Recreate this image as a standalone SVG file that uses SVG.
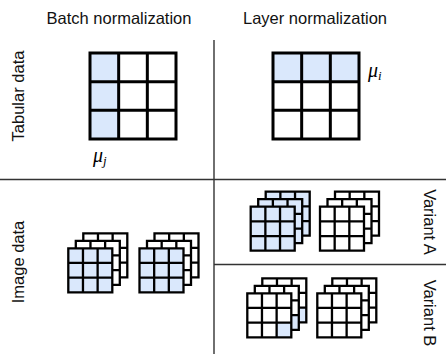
<svg xmlns="http://www.w3.org/2000/svg" xmlns:xlink="http://www.w3.org/1999/xlink" width="446" height="356" viewBox="0 0 446 356">
<style>
.lbl{font-family:"Liberation Sans",Arial,sans-serif;font-size:16.5px;fill:#111}
.mu{font-family:"Liberation Serif","DejaVu Serif",serif;font-style:italic;font-size:20px;fill:#000}
.sub{font-size:13px}
.g{stroke:#000;stroke-width:3;fill:none}
.c{stroke:#000;stroke-width:2.3;fill:none}
.blue{fill:#dae8fc}
.white{fill:#fff}
.div{stroke:#333;stroke-width:1.4;fill:none}
</style>
<defs>
<g id="lw"><rect width="44" height="44" class="white"/><path class="c" d="M0 0H44V44H0Z M14.67 0V44 M29.33 0V44 M0 14.67H44 M0 29.33H44"/></g>
<g id="lb"><rect width="44" height="44" class="blue"/><path class="c" d="M0 0H44V44H0Z M14.67 0V44 M29.33 0V44 M0 14.67H44 M0 29.33H44"/></g>
<g id="lc"><rect width="44" height="44" class="white"/><rect x="29.33" y="29.33" width="14.67" height="14.67" class="blue"/><path class="c" d="M0 0H44V44H0Z M14.67 0V44 M29.33 0V44 M0 14.67H44 M0 29.33H44"/></g>
</defs>
<rect width="446" height="356" fill="#fff"/>
<g id="connectors">
<path class="div" d="M0 179.5H446"/>
<path class="div" d="M214 40V354"/>
<path class="div" d="M214 264.5H446"/>
</g>
<g id="titles">
<text class="lbl" x="119" y="24" text-anchor="middle">Batch normalization</text>
<text class="lbl" x="315" y="24" text-anchor="middle">Layer normalization</text>
<text class="lbl" transform="translate(24 96) rotate(-90)" text-anchor="middle">Tabular data</text>
<text class="lbl" transform="translate(24 262) rotate(-90)" text-anchor="middle">Image data</text>
<text class="lbl" transform="translate(423.5 222) rotate(90)" text-anchor="middle">Variant A</text>
<text class="lbl" transform="translate(423.5 313) rotate(90)" text-anchor="middle">Variant B</text>
</g>
<g id="tab-batch">
<rect x="90" y="53" width="28.67" height="86" class="blue"/>
<path class="g" d="M90 53H176V139H90Z M118.67 53V139 M147.33 53V139 M90 81.67H176 M90 110.33H176"/>
<text class="mu" x="93" y="162">μ<tspan class="sub" dy="3">j</tspan></text>
</g>
<g id="tab-layer">
<rect x="273" y="53" width="86" height="28.67" class="blue"/>
<path class="g" d="M273 53H359V139H273Z M301.67 53V139 M330.33 53V139 M273 81.67H359 M273 110.33H359"/>
<text class="mu" x="368" y="77">μ<tspan class="sub" dy="3">i</tspan></text>
</g>
<g id="img-batch-1">
<use xlink:href="#lw" x="83.3" y="233.3"/><use xlink:href="#lw" x="75.8" y="240.8"/><use xlink:href="#lb" x="68.3" y="248.3"/>
</g>
<g id="img-batch-2">
<use xlink:href="#lw" x="154.5" y="233.3"/><use xlink:href="#lw" x="147" y="240.8"/><use xlink:href="#lb" x="139.5" y="248.3"/>
</g>
<g id="img-varA-1">
<use xlink:href="#lb" x="265.7" y="191.7"/><use xlink:href="#lb" x="258.2" y="199.2"/><use xlink:href="#lb" x="250.7" y="206.7"/>
</g>
<g id="img-varA-2">
<use xlink:href="#lw" x="335" y="191.7"/><use xlink:href="#lw" x="327.5" y="199.2"/><use xlink:href="#lw" x="320" y="206.7"/>
</g>
<g id="img-varB-1">
<use xlink:href="#lc" x="262.3" y="278.3"/><use xlink:href="#lc" x="254.8" y="285.8"/><use xlink:href="#lc" x="247.3" y="293.3"/>
</g>
<g id="img-varB-2">
<use xlink:href="#lw" x="332.3" y="278.3"/><use xlink:href="#lw" x="324.8" y="285.8"/><use xlink:href="#lw" x="317.3" y="293.3"/>
</g>
</svg>
